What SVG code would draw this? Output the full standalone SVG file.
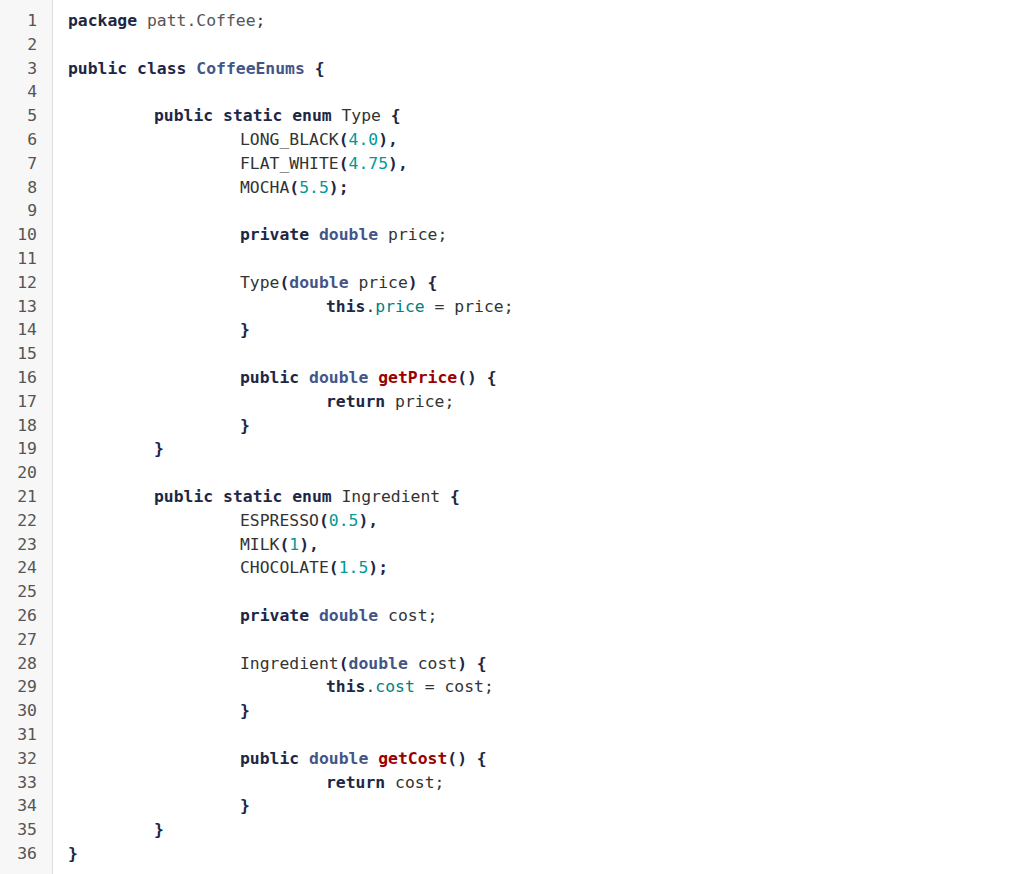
<svg xmlns="http://www.w3.org/2000/svg" width="1024" height="874" viewBox="0 0 1024 874">
<style>
text{font-family:"DejaVu Sans Mono","Liberation Mono",monospace;font-size:16.4px;fill:#333;white-space:pre}
.ln{fill:#555;text-anchor:end}
.k{font-weight:bold;fill:#1d2745}
.t{font-weight:bold;fill:#445588}
.c{fill:#445588;font-weight:bold}
.n{fill:#009999}
.f{font-weight:bold;fill:#990000}
.v{fill:#008080}
.g{fill:#555}
</style>
<rect width="1024" height="874" fill="#fff"/>
<rect width="52" height="874" fill="#f7f7f7"/>
<line x1="52.5" y1="0" x2="52.5" y2="874" stroke="#ddd"/>
<g id="gutter">
<text class="ln" x="37" y="26">1</text><text class="ln" x="37" y="49.8">2</text><text class="ln" x="37" y="73.6">3</text><text class="ln" x="37" y="97.4">4</text><text class="ln" x="37" y="121.2">5</text><text class="ln" x="37" y="145">6</text><text class="ln" x="37" y="168.8">7</text><text class="ln" x="37" y="192.6">8</text><text class="ln" x="37" y="216.4">9</text><text class="ln" x="37" y="240.2">10</text><text class="ln" x="37" y="264">11</text><text class="ln" x="37" y="287.8">12</text><text class="ln" x="37" y="311.6">13</text><text class="ln" x="37" y="335.4">14</text><text class="ln" x="37" y="359.2">15</text><text class="ln" x="37" y="383">16</text><text class="ln" x="37" y="406.8">17</text><text class="ln" x="37" y="430.6">18</text><text class="ln" x="37" y="454.4">19</text><text class="ln" x="37" y="478.2">20</text><text class="ln" x="37" y="502">21</text><text class="ln" x="37" y="525.8">22</text><text class="ln" x="37" y="549.6">23</text><text class="ln" x="37" y="573.4">24</text><text class="ln" x="37" y="597.2">25</text><text class="ln" x="37" y="621">26</text><text class="ln" x="37" y="644.8">27</text><text class="ln" x="37" y="668.6">28</text><text class="ln" x="37" y="692.4">29</text><text class="ln" x="37" y="716.2">30</text><text class="ln" x="37" y="740">31</text><text class="ln" x="37" y="763.8">32</text><text class="ln" x="37" y="787.6">33</text><text class="ln" x="37" y="811.4">34</text><text class="ln" x="37" y="835.2">35</text><text class="ln" x="37" y="859">36</text>
</g>
<g id="code">
<text x="68" y="26"><tspan class="k">package</tspan> <tspan class="g">patt.Coffee</tspan>;</text>
<text x="68" y="73.6"><tspan class="k">public class</tspan> <tspan class="c">CoffeeEnums</tspan> <tspan class="k">{</tspan></text>
<text x="154" y="121.2"><tspan class="k">public static enum</tspan> Type <tspan class="k">{</tspan></text>
<text x="240" y="145">LONG_BLACK<tspan class="k">(</tspan><tspan class="n">4.0</tspan><tspan class="k">),</tspan></text>
<text x="240" y="168.8">FLAT_WHITE<tspan class="k">(</tspan><tspan class="n">4.75</tspan><tspan class="k">),</tspan></text>
<text x="240" y="192.6">MOCHA<tspan class="k">(</tspan><tspan class="n">5.5</tspan><tspan class="k">);</tspan></text>
<text x="240" y="240.2"><tspan class="k">private</tspan> <tspan class="t">double</tspan> price;</text>
<text x="240" y="287.8">Type<tspan class="k">(</tspan><tspan class="t">double</tspan> price<tspan class="k">) {</tspan></text>
<text x="326" y="311.6"><tspan class="k">this</tspan>.<tspan class="v">price</tspan> = price;</text>
<text x="240" y="335.4" class="k">}</text>
<text x="240" y="383"><tspan class="k">public</tspan> <tspan class="t">double</tspan> <tspan class="f">getPrice</tspan><tspan class="k">() {</tspan></text>
<text x="326" y="406.8"><tspan class="k">return</tspan> price;</text>
<text x="240" y="430.6" class="k">}</text>
<text x="154" y="454.4" class="k">}</text>
<text x="154" y="502"><tspan class="k">public static enum</tspan> Ingredient <tspan class="k">{</tspan></text>
<text x="240" y="525.8">ESPRESSO<tspan class="k">(</tspan><tspan class="n">0.5</tspan><tspan class="k">),</tspan></text>
<text x="240" y="549.6">MILK<tspan class="k">(</tspan><tspan class="n">1</tspan><tspan class="k">),</tspan></text>
<text x="240" y="573.4">CHOCOLATE<tspan class="k">(</tspan><tspan class="n">1.5</tspan><tspan class="k">);</tspan></text>
<text x="240" y="621"><tspan class="k">private</tspan> <tspan class="t">double</tspan> cost;</text>
<text x="240" y="668.6">Ingredient<tspan class="k">(</tspan><tspan class="t">double</tspan> cost<tspan class="k">) {</tspan></text>
<text x="326" y="692.4"><tspan class="k">this</tspan>.<tspan class="v">cost</tspan> = cost;</text>
<text x="240" y="716.2" class="k">}</text>
<text x="240" y="763.8"><tspan class="k">public</tspan> <tspan class="t">double</tspan> <tspan class="f">getCost</tspan><tspan class="k">() {</tspan></text>
<text x="326" y="787.6"><tspan class="k">return</tspan> cost;</text>
<text x="240" y="811.4" class="k">}</text>
<text x="154" y="835.2" class="k">}</text>
<text x="68" y="859" class="k">}</text>
</g>
</svg>
